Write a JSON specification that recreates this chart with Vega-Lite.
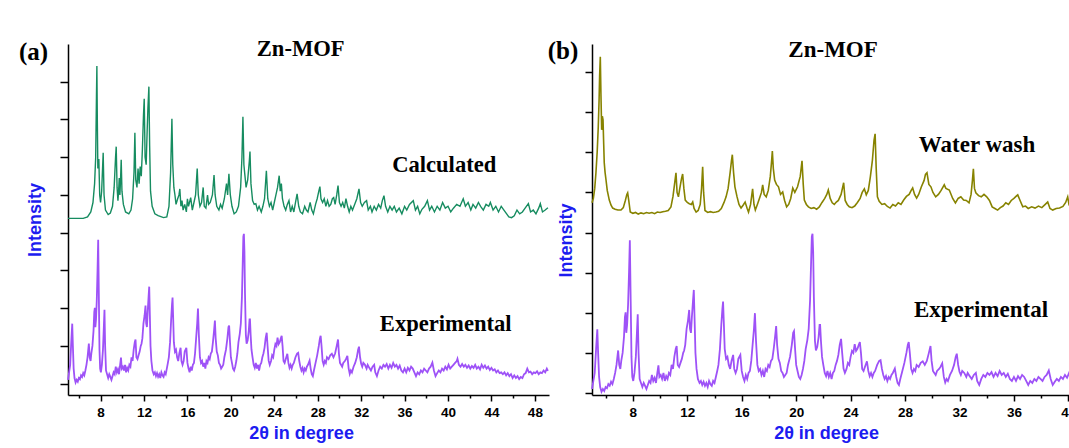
{
"$schema":"https://vega.github.io/schema/vega-lite/v6.json",
"padding":{"left":18,"top":37,"right":0,"bottom":0},
"bounds":"flush",
"spacing":43,
"config":{
 "view":{"stroke":null},
 "axis":{"grid":false,"domainColor":"#000000","domainWidth":1.5,"tickColor":"#000000","tickWidth":1.5,
  "labelFont":"Liberation Sans","labelFontWeight":"bold","labelFontSize":13.5,"labelColor":"#000000",
  "titleFont":"Liberation Sans","titleFontWeight":"bold","titleFontSize":18,"titleColor":"#1c1cf0"}
},
"datasets":{
"calc":[{"x":5.0,"y":4.38},{"x":6.4,"y":4.38},{"x":6.8,"y":4.42},{"x":7.1,"y":4.55},{"x":7.3,"y":4.8},{"x":7.45,"y":5.3},{"x":7.55,"y":6.0},{"x":7.62,"y":7.6},{"x":7.66,"y":8.42},{"x":7.7,"y":7.0},{"x":7.75,"y":5.7},{"x":7.84,"y":5.95},{"x":7.92,"y":5.0},{"x":8.0,"y":4.8},{"x":8.1,"y":5.1},{"x":8.24,"y":6.12},{"x":8.32,"y":5.0},{"x":8.45,"y":4.6},{"x":8.7,"y":4.48},{"x":8.9,"y":4.52},{"x":9.1,"y":4.7},{"x":9.25,"y":5.2},{"x":9.38,"y":6.0},{"x":9.44,"y":6.28},{"x":9.52,"y":5.2},{"x":9.6,"y":4.85},{"x":9.66,"y":5.1},{"x":9.72,"y":5.45},{"x":9.78,"y":5.0},{"x":9.84,"y":5.4},{"x":9.9,"y":5.93},{"x":9.97,"y":5.1},{"x":10.1,"y":4.75},{"x":10.3,"y":4.55},{"x":10.6,"y":4.5},{"x":10.8,"y":4.6},{"x":10.95,"y":4.9},{"x":11.08,"y":5.6},{"x":11.16,"y":6.65},{"x":11.24,"y":5.4},{"x":11.35,"y":5.2},{"x":11.45,"y":5.7},{"x":11.55,"y":5.3},{"x":11.65,"y":5.75},{"x":11.75,"y":5.5},{"x":11.85,"y":6.2},{"x":11.95,"y":7.1},{"x":12.02,"y":7.55},{"x":12.1,"y":6.0},{"x":12.2,"y":5.8},{"x":12.28,"y":6.6},{"x":12.36,"y":7.3},{"x":12.45,"y":7.87},{"x":12.52,"y":6.3},{"x":12.6,"y":5.1},{"x":12.75,"y":4.7},{"x":13.0,"y":4.5},{"x":13.3,"y":4.45},{"x":13.8,"y":4.4},{"x":14.1,"y":4.42},{"x":14.3,"y":4.7},{"x":14.45,"y":5.6},{"x":14.57,"y":7.02},{"x":14.65,"y":5.8},{"x":14.75,"y":5.2},{"x":14.85,"y":5.0},{"x":14.95,"y":4.75},{"x":15.1,"y":4.9},{"x":15.22,"y":5.0},{"x":15.3,"y":5.16},{"x":15.4,"y":4.7},{"x":15.5,"y":4.85},{"x":15.6,"y":4.6},{"x":15.75,"y":4.75},{"x":15.9,"y":4.55},{"x":16.0,"y":4.9},{"x":16.1,"y":4.7},{"x":16.3,"y":4.93},{"x":16.45,"y":4.6},{"x":16.6,"y":4.8},{"x":16.75,"y":5.0},{"x":16.9,"y":5.7},{"x":17.0,"y":5.0},{"x":17.15,"y":4.7},{"x":17.3,"y":4.8},{"x":17.45,"y":5.2},{"x":17.55,"y":4.7},{"x":17.7,"y":4.65},{"x":17.85,"y":5.0},{"x":17.95,"y":4.75},{"x":18.1,"y":4.8},{"x":18.3,"y":5.0},{"x":18.45,"y":5.53},{"x":18.55,"y":5.0},{"x":18.7,"y":4.7},{"x":18.9,"y":4.6},{"x":19.05,"y":4.75},{"x":19.2,"y":4.65},{"x":19.4,"y":4.9},{"x":19.6,"y":5.3},{"x":19.7,"y":5.0},{"x":19.82,"y":5.56},{"x":19.95,"y":5.0},{"x":20.1,"y":4.7},{"x":20.3,"y":4.5},{"x":20.5,"y":4.55},{"x":20.7,"y":4.7},{"x":20.9,"y":5.2},{"x":21.02,"y":6.0},{"x":21.11,"y":7.07},{"x":21.2,"y":5.8},{"x":21.3,"y":5.5},{"x":21.4,"y":5.2},{"x":21.55,"y":5.4},{"x":21.7,"y":5.9},{"x":21.76,"y":6.15},{"x":21.85,"y":5.3},{"x":22.0,"y":4.85},{"x":22.15,"y":4.75},{"x":22.3,"y":4.77},{"x":22.45,"y":4.6},{"x":22.6,"y":4.7},{"x":22.8,"y":4.55},{"x":22.95,"y":4.7},{"x":23.1,"y":4.9},{"x":23.27,"y":5.64},{"x":23.4,"y":4.9},{"x":23.55,"y":4.7},{"x":23.7,"y":4.8},{"x":23.85,"y":4.6},{"x":24.0,"y":4.8},{"x":24.15,"y":5.0},{"x":24.3,"y":5.2},{"x":24.45,"y":5.51},{"x":24.55,"y":5.1},{"x":24.65,"y":5.3},{"x":24.75,"y":4.9},{"x":24.9,"y":4.7},{"x":25.05,"y":4.6},{"x":25.2,"y":4.75},{"x":25.35,"y":4.85},{"x":25.5,"y":4.55},{"x":25.65,"y":4.7},{"x":25.8,"y":4.55},{"x":25.95,"y":4.8},{"x":26.1,"y":5.03},{"x":26.25,"y":4.7},{"x":26.4,"y":4.55},{"x":26.6,"y":4.5},{"x":26.8,"y":4.7},{"x":26.95,"y":4.6},{"x":27.1,"y":4.55},{"x":27.3,"y":4.8},{"x":27.45,"y":4.6},{"x":27.6,"y":4.5},{"x":27.8,"y":4.75},{"x":27.95,"y":4.9},{"x":28.1,"y":5.1},{"x":28.2,"y":5.22},{"x":28.3,"y":4.9},{"x":28.45,"y":4.8},{"x":28.6,"y":4.9},{"x":28.75,"y":4.7},{"x":28.9,"y":4.85},{"x":29.05,"y":4.7},{"x":29.2,"y":4.75},{"x":29.35,"y":4.9},{"x":29.47,"y":4.93},{"x":29.6,"y":4.75},{"x":29.75,"y":5.0},{"x":29.87,"y":5.25},{"x":30.0,"y":4.8},{"x":30.15,"y":4.7},{"x":30.3,"y":4.8},{"x":30.45,"y":4.65},{"x":30.6,"y":4.9},{"x":30.75,"y":4.7},{"x":30.9,"y":4.55},{"x":31.05,"y":4.7},{"x":31.2,"y":4.6},{"x":31.4,"y":4.75},{"x":31.6,"y":4.9},{"x":31.8,"y":5.16},{"x":31.95,"y":4.8},{"x":32.1,"y":4.7},{"x":32.3,"y":4.8},{"x":32.5,"y":4.85},{"x":32.65,"y":4.6},{"x":32.85,"y":4.7},{"x":33.0,"y":4.55},{"x":33.2,"y":4.7},{"x":33.4,"y":4.6},{"x":33.6,"y":4.75},{"x":33.8,"y":4.65},{"x":33.95,"y":4.85},{"x":34.1,"y":4.98},{"x":34.25,"y":4.7},{"x":34.45,"y":4.55},{"x":34.65,"y":4.7},{"x":34.85,"y":4.6},{"x":35.05,"y":4.7},{"x":35.25,"y":4.55},{"x":35.5,"y":4.65},{"x":35.75,"y":4.5},{"x":36.0,"y":4.7},{"x":36.2,"y":4.6},{"x":36.45,"y":4.75},{"x":36.8,"y":4.85},{"x":37.0,"y":4.6},{"x":37.2,"y":4.7},{"x":37.4,"y":4.5},{"x":37.6,"y":4.62},{"x":37.85,"y":4.7},{"x":38.1,"y":4.85},{"x":38.3,"y":4.6},{"x":38.5,"y":4.7},{"x":38.75,"y":4.55},{"x":39.0,"y":4.7},{"x":39.25,"y":4.6},{"x":39.5,"y":4.8},{"x":39.75,"y":4.65},{"x":40.0,"y":4.7},{"x":40.25,"y":4.55},{"x":40.5,"y":4.65},{"x":40.8,"y":4.75},{"x":41.1,"y":4.7},{"x":41.4,"y":4.9},{"x":41.6,"y":4.7},{"x":41.85,"y":4.8},{"x":42.1,"y":4.6},{"x":42.3,"y":4.75},{"x":42.55,"y":4.65},{"x":42.8,"y":4.8},{"x":43.0,"y":4.7},{"x":43.25,"y":4.6},{"x":43.5,"y":4.75},{"x":43.75,"y":4.7},{"x":43.9,"y":4.8},{"x":44.15,"y":4.6},{"x":44.4,"y":4.7},{"x":44.65,"y":4.55},{"x":44.9,"y":4.7},{"x":45.15,"y":4.6},{"x":45.4,"y":4.5},{"x":45.6,"y":4.42},{"x":45.85,"y":4.4},{"x":46.1,"y":4.45},{"x":46.35,"y":4.6},{"x":46.6,"y":4.5},{"x":46.85,"y":4.55},{"x":47.1,"y":4.65},{"x":47.4,"y":4.77},{"x":47.6,"y":4.55},{"x":47.85,"y":4.6},{"x":48.1,"y":4.5},{"x":48.35,"y":4.65},{"x":48.5,"y":4.77},{"x":48.7,"y":4.55},{"x":48.95,"y":4.6},{"x":49.2,"y":4.66}],
"exp":[{"x":5.0,"y":0.1},{"x":5.1,"y":0.3},{"x":5.2,"y":0.5},{"x":5.3,"y":1.1},{"x":5.39,"y":1.59},{"x":5.45,"y":1.0},{"x":5.52,"y":0.4},{"x":5.6,"y":0.15},{"x":5.7,"y":0.03},{"x":5.8,"y":0.1},{"x":5.9,"y":0.05},{"x":6.0,"y":0.15},{"x":6.1,"y":0.12},{"x":6.2,"y":0.22},{"x":6.3,"y":0.18},{"x":6.4,"y":0.28},{"x":6.5,"y":0.22},{"x":6.6,"y":0.35},{"x":6.7,"y":0.5},{"x":6.8,"y":0.7},{"x":6.92,"y":1.06},{"x":7.0,"y":0.7},{"x":7.08,"y":0.6},{"x":7.15,"y":0.8},{"x":7.25,"y":1.0},{"x":7.35,"y":1.4},{"x":7.42,"y":1.9},{"x":7.47,"y":2.01},{"x":7.52,"y":1.5},{"x":7.58,"y":1.7},{"x":7.65,"y":2.2},{"x":7.72,"y":3.0},{"x":7.78,"y":3.81},{"x":7.83,"y":2.6},{"x":7.9,"y":0.9},{"x":7.96,"y":0.4},{"x":8.03,"y":0.3},{"x":8.12,"y":0.5},{"x":8.22,"y":0.9},{"x":8.3,"y":1.5},{"x":8.36,"y":1.96},{"x":8.42,"y":1.0},{"x":8.5,"y":0.35},{"x":8.6,"y":0.25},{"x":8.7,"y":0.15},{"x":8.8,"y":0.25},{"x":8.9,"y":0.18},{"x":9.0,"y":0.1},{"x":9.1,"y":0.2},{"x":9.2,"y":0.3},{"x":9.3,"y":0.25},{"x":9.4,"y":0.45},{"x":9.5,"y":0.3},{"x":9.6,"y":0.38},{"x":9.7,"y":0.25},{"x":9.8,"y":0.5},{"x":9.88,"y":0.69},{"x":9.95,"y":0.4},{"x":10.05,"y":0.45},{"x":10.15,"y":0.35},{"x":10.25,"y":0.5},{"x":10.35,"y":0.3},{"x":10.45,"y":0.42},{"x":10.55,"y":0.35},{"x":10.65,"y":0.5},{"x":10.75,"y":0.45},{"x":10.85,"y":0.7},{"x":10.95,"y":0.6},{"x":11.05,"y":0.9},{"x":11.15,"y":1.1},{"x":11.22,"y":1.17},{"x":11.3,"y":0.7},{"x":11.4,"y":0.65},{"x":11.5,"y":0.75},{"x":11.6,"y":0.85},{"x":11.7,"y":1.0},{"x":11.77,"y":1.06},{"x":11.85,"y":1.2},{"x":11.95,"y":1.6},{"x":12.05,"y":1.8},{"x":12.14,"y":2.07},{"x":12.2,"y":1.6},{"x":12.27,"y":1.5},{"x":12.34,"y":1.9},{"x":12.42,"y":2.3},{"x":12.48,"y":2.57},{"x":12.54,"y":1.8},{"x":12.6,"y":1.0},{"x":12.68,"y":0.6},{"x":12.78,"y":0.35},{"x":12.9,"y":0.25},{"x":13.0,"y":0.3},{"x":13.1,"y":0.2},{"x":13.2,"y":0.28},{"x":13.3,"y":0.18},{"x":13.4,"y":0.25},{"x":13.5,"y":0.15},{"x":13.6,"y":0.3},{"x":13.7,"y":0.22},{"x":13.8,"y":0.18},{"x":13.9,"y":0.3},{"x":14.0,"y":0.25},{"x":14.1,"y":0.4},{"x":14.2,"y":0.55},{"x":14.29,"y":0.7},{"x":14.4,"y":1.1},{"x":14.5,"y":1.7},{"x":14.58,"y":2.1},{"x":14.63,"y":2.28},{"x":14.68,"y":1.8},{"x":14.75,"y":1.1},{"x":14.85,"y":0.85},{"x":14.95,"y":0.9},{"x":15.05,"y":0.7},{"x":15.15,"y":0.6},{"x":15.25,"y":0.8},{"x":15.37,"y":0.95},{"x":15.45,"y":0.6},{"x":15.55,"y":0.5},{"x":15.65,"y":0.6},{"x":15.75,"y":0.85},{"x":15.9,"y":0.95},{"x":16.0,"y":0.55},{"x":16.1,"y":0.4},{"x":16.2,"y":0.3},{"x":16.3,"y":0.45},{"x":16.4,"y":0.35},{"x":16.5,"y":0.5},{"x":16.6,"y":0.55},{"x":16.7,"y":0.8},{"x":16.8,"y":1.2},{"x":16.9,"y":1.6},{"x":16.97,"y":1.99},{"x":17.05,"y":1.3},{"x":17.15,"y":0.7},{"x":17.25,"y":0.55},{"x":17.35,"y":0.6},{"x":17.45,"y":0.45},{"x":17.55,"y":0.55},{"x":17.65,"y":0.4},{"x":17.75,"y":0.6},{"x":17.85,"y":0.55},{"x":17.95,"y":0.7},{"x":18.05,"y":0.65},{"x":18.15,"y":0.8},{"x":18.25,"y":0.85},{"x":18.35,"y":1.1},{"x":18.45,"y":1.4},{"x":18.53,"y":1.67},{"x":18.6,"y":1.2},{"x":18.7,"y":0.85},{"x":18.8,"y":0.75},{"x":18.9,"y":0.55},{"x":19.0,"y":0.5},{"x":19.1,"y":0.4},{"x":19.2,"y":0.45},{"x":19.3,"y":0.5},{"x":19.4,"y":0.7},{"x":19.55,"y":0.9},{"x":19.68,"y":1.2},{"x":19.78,"y":1.5},{"x":19.84,"y":1.54},{"x":19.92,"y":1.1},{"x":20.0,"y":0.7},{"x":20.1,"y":0.55},{"x":20.2,"y":0.4},{"x":20.3,"y":0.35},{"x":20.4,"y":0.45},{"x":20.5,"y":0.6},{"x":20.6,"y":0.8},{"x":20.7,"y":1.1},{"x":20.82,"y":1.32},{"x":20.92,"y":1.6},{"x":21.02,"y":2.3},{"x":21.1,"y":3.3},{"x":21.15,"y":3.9},{"x":21.2,"y":3.97},{"x":21.25,"y":3.5},{"x":21.3,"y":2.4},{"x":21.38,"y":1.3},{"x":21.45,"y":1.06},{"x":21.55,"y":1.15},{"x":21.65,"y":1.4},{"x":21.72,"y":1.7},{"x":21.76,"y":1.7},{"x":21.82,"y":1.3},{"x":21.9,"y":0.9},{"x":22.0,"y":0.69},{"x":22.1,"y":0.5},{"x":22.2,"y":0.42},{"x":22.3,"y":0.55},{"x":22.4,"y":0.4},{"x":22.5,"y":0.5},{"x":22.6,"y":0.35},{"x":22.7,"y":0.5},{"x":22.8,"y":0.55},{"x":22.9,"y":0.7},{"x":23.0,"y":0.8},{"x":23.1,"y":0.95},{"x":23.2,"y":1.2},{"x":23.3,"y":1.35},{"x":23.38,"y":1.0},{"x":23.48,"y":0.61},{"x":23.58,"y":0.5},{"x":23.7,"y":0.6},{"x":23.8,"y":0.75},{"x":23.9,"y":0.7},{"x":24.0,"y":0.9},{"x":24.1,"y":1.05},{"x":24.2,"y":1.0},{"x":24.3,"y":1.22},{"x":24.4,"y":1.05},{"x":24.5,"y":1.1},{"x":24.6,"y":1.2},{"x":24.68,"y":1.27},{"x":24.76,"y":1.0},{"x":24.85,"y":0.6},{"x":24.95,"y":0.55},{"x":25.05,"y":0.65},{"x":25.2,"y":0.79},{"x":25.3,"y":0.55},{"x":25.4,"y":0.42},{"x":25.5,"y":0.5},{"x":25.6,"y":0.4},{"x":25.7,"y":0.5},{"x":25.8,"y":0.55},{"x":25.95,"y":0.7},{"x":26.1,"y":0.8},{"x":26.2,"y":0.82},{"x":26.3,"y":0.6},{"x":26.4,"y":0.45},{"x":26.5,"y":0.35},{"x":26.6,"y":0.42},{"x":26.7,"y":0.3},{"x":26.8,"y":0.4},{"x":26.9,"y":0.35},{"x":27.0,"y":0.45},{"x":27.1,"y":0.5},{"x":27.25,"y":0.61},{"x":27.35,"y":0.4},{"x":27.45,"y":0.25},{"x":27.55,"y":0.2},{"x":27.65,"y":0.35},{"x":27.8,"y":0.55},{"x":27.95,"y":0.75},{"x":28.1,"y":1.0},{"x":28.2,"y":1.2},{"x":28.27,"y":1.27},{"x":28.35,"y":1.0},{"x":28.45,"y":0.6},{"x":28.55,"y":0.5},{"x":28.65,"y":0.6},{"x":28.75,"y":0.55},{"x":28.85,"y":0.7},{"x":29.0,"y":0.65},{"x":29.15,"y":0.75},{"x":29.3,"y":0.79},{"x":29.45,"y":0.7},{"x":29.6,"y":0.8},{"x":29.75,"y":1.0},{"x":29.87,"y":1.17},{"x":29.95,"y":0.8},{"x":30.05,"y":0.55},{"x":30.15,"y":0.5},{"x":30.25,"y":0.45},{"x":30.35,"y":0.55},{"x":30.5,"y":0.6},{"x":30.6,"y":0.65},{"x":30.73,"y":0.74},{"x":30.85,"y":0.4},{"x":30.95,"y":0.26},{"x":31.05,"y":0.35},{"x":31.15,"y":0.3},{"x":31.3,"y":0.45},{"x":31.45,"y":0.55},{"x":31.6,"y":0.7},{"x":31.72,"y":0.9},{"x":31.8,"y":0.98},{"x":31.9,"y":0.7},{"x":32.0,"y":0.53},{"x":32.1,"y":0.45},{"x":32.2,"y":0.55},{"x":32.35,"y":0.5},{"x":32.5,"y":0.4},{"x":32.6,"y":0.5},{"x":32.75,"y":0.42},{"x":32.9,"y":0.35},{"x":33.05,"y":0.45},{"x":33.2,"y":0.5},{"x":33.3,"y":0.3},{"x":33.45,"y":0.2},{"x":33.6,"y":0.35},{"x":33.75,"y":0.45},{"x":33.9,"y":0.4},{"x":34.05,"y":0.5},{"x":34.2,"y":0.45},{"x":34.35,"y":0.52},{"x":34.5,"y":0.4},{"x":34.65,"y":0.5},{"x":34.8,"y":0.42},{"x":34.95,"y":0.55},{"x":35.1,"y":0.45},{"x":35.25,"y":0.5},{"x":35.4,"y":0.4},{"x":35.55,"y":0.48},{"x":35.7,"y":0.35},{"x":35.85,"y":0.3},{"x":36.0,"y":0.4},{"x":36.15,"y":0.3},{"x":36.3,"y":0.42},{"x":36.45,"y":0.35},{"x":36.6,"y":0.45},{"x":36.75,"y":0.4},{"x":36.9,"y":0.3},{"x":37.05,"y":0.2},{"x":37.2,"y":0.3},{"x":37.35,"y":0.25},{"x":37.5,"y":0.35},{"x":37.65,"y":0.3},{"x":37.8,"y":0.4},{"x":37.95,"y":0.35},{"x":38.1,"y":0.3},{"x":38.25,"y":0.4},{"x":38.4,"y":0.45},{"x":38.56,"y":0.56},{"x":38.7,"y":0.35},{"x":38.85,"y":0.2},{"x":39.0,"y":0.28},{"x":39.15,"y":0.35},{"x":39.3,"y":0.3},{"x":39.45,"y":0.4},{"x":39.6,"y":0.35},{"x":39.75,"y":0.45},{"x":39.9,"y":0.38},{"x":40.05,"y":0.5},{"x":40.2,"y":0.4},{"x":40.35,"y":0.45},{"x":40.5,"y":0.5},{"x":40.65,"y":0.55},{"x":40.8,"y":0.6},{"x":40.87,"y":0.66},{"x":41.0,"y":0.5},{"x":41.15,"y":0.45},{"x":41.3,"y":0.52},{"x":41.45,"y":0.45},{"x":41.6,"y":0.5},{"x":41.75,"y":0.42},{"x":41.9,"y":0.48},{"x":42.05,"y":0.4},{"x":42.2,"y":0.47},{"x":42.35,"y":0.42},{"x":42.5,"y":0.5},{"x":42.65,"y":0.4},{"x":42.8,"y":0.45},{"x":42.95,"y":0.38},{"x":43.1,"y":0.5},{"x":43.25,"y":0.42},{"x":43.4,"y":0.48},{"x":43.55,"y":0.4},{"x":43.7,"y":0.45},{"x":43.85,"y":0.36},{"x":44.0,"y":0.42},{"x":44.15,"y":0.35},{"x":44.3,"y":0.38},{"x":44.45,"y":0.3},{"x":44.6,"y":0.35},{"x":44.75,"y":0.28},{"x":44.9,"y":0.3},{"x":45.05,"y":0.25},{"x":45.2,"y":0.3},{"x":45.35,"y":0.22},{"x":45.5,"y":0.28},{"x":45.65,"y":0.2},{"x":45.8,"y":0.25},{"x":45.95,"y":0.15},{"x":46.1,"y":0.22},{"x":46.25,"y":0.15},{"x":46.4,"y":0.2},{"x":46.55,"y":0.12},{"x":46.7,"y":0.18},{"x":46.85,"y":0.15},{"x":47.0,"y":0.25},{"x":47.15,"y":0.28},{"x":47.3,"y":0.4},{"x":47.45,"y":0.3},{"x":47.6,"y":0.32},{"x":47.75,"y":0.25},{"x":47.9,"y":0.3},{"x":48.05,"y":0.28},{"x":48.2,"y":0.33},{"x":48.35,"y":0.25},{"x":48.5,"y":0.3},{"x":48.65,"y":0.28},{"x":48.8,"y":0.35},{"x":48.95,"y":0.3},{"x":49.1,"y":0.4},{"x":49.2,"y":0.34}],
"wash":[{"x":5.0,"y":4.74},{"x":5.1,"y":4.85},{"x":5.2,"y":5.1},{"x":5.29,"y":5.49},{"x":5.38,"y":6.0},{"x":5.46,"y":6.63},{"x":5.52,"y":7.3},{"x":5.56,"y":7.9},{"x":5.61,"y":8.38},{"x":5.66,"y":7.4},{"x":5.71,"y":6.56},{"x":5.76,"y":6.9},{"x":5.81,"y":6.81},{"x":5.86,"y":6.2},{"x":5.9,"y":5.74},{"x":5.96,"y":5.5},{"x":6.03,"y":5.31},{"x":6.12,"y":5.05},{"x":6.27,"y":4.81},{"x":6.4,"y":4.68},{"x":6.52,"y":4.61},{"x":6.7,"y":4.58},{"x":6.9,"y":4.56},{"x":7.13,"y":4.56},{"x":7.3,"y":4.62},{"x":7.45,"y":4.8},{"x":7.56,"y":4.95},{"x":7.62,"y":4.99},{"x":7.7,"y":4.8},{"x":7.81,"y":4.51},{"x":8.0,"y":4.48},{"x":8.2,"y":4.5},{"x":8.4,"y":4.46},{"x":8.6,"y":4.49},{"x":8.8,"y":4.47},{"x":9.0,"y":4.5},{"x":9.2,"y":4.48},{"x":9.4,"y":4.5},{"x":9.6,"y":4.47},{"x":9.8,"y":4.51},{"x":10.0,"y":4.5},{"x":10.2,"y":4.52},{"x":10.4,"y":4.53},{"x":10.6,"y":4.55},{"x":10.8,"y":4.64},{"x":10.95,"y":4.9},{"x":11.1,"y":5.3},{"x":11.17,"y":5.49},{"x":11.25,"y":5.0},{"x":11.35,"y":4.89},{"x":11.45,"y":5.1},{"x":11.58,"y":5.35},{"x":11.66,"y":5.46},{"x":11.75,"y":5.1},{"x":11.85,"y":4.81},{"x":12.0,"y":4.75},{"x":12.15,"y":4.72},{"x":12.3,"y":4.7},{"x":12.4,"y":4.76},{"x":12.5,"y":4.6},{"x":12.65,"y":4.51},{"x":12.8,"y":4.55},{"x":12.95,"y":4.7},{"x":13.05,"y":5.1},{"x":13.13,"y":5.64},{"x":13.2,"y":5.0},{"x":13.3,"y":4.55},{"x":13.5,"y":4.5},{"x":13.7,"y":4.52},{"x":13.9,"y":4.5},{"x":14.1,"y":4.51},{"x":14.3,"y":4.53},{"x":14.5,"y":4.6},{"x":14.7,"y":4.75},{"x":14.85,"y":4.89},{"x":15.0,"y":5.1},{"x":15.15,"y":5.5},{"x":15.25,"y":5.8},{"x":15.31,"y":5.94},{"x":15.4,"y":5.5},{"x":15.5,"y":5.14},{"x":15.65,"y":4.9},{"x":15.8,"y":4.7},{"x":15.95,"y":4.61},{"x":16.1,"y":4.68},{"x":16.25,"y":4.76},{"x":16.4,"y":4.6},{"x":16.5,"y":4.51},{"x":16.65,"y":4.7},{"x":16.8,"y":5.09},{"x":16.9,"y":4.7},{"x":17.0,"y":4.56},{"x":17.15,"y":4.7},{"x":17.3,"y":4.85},{"x":17.45,"y":5.0},{"x":17.54,"y":5.19},{"x":17.65,"y":4.95},{"x":17.8,"y":4.89},{"x":17.95,"y":5.05},{"x":18.1,"y":5.4},{"x":18.2,"y":5.8},{"x":18.25,"y":6.03},{"x":18.32,"y":5.6},{"x":18.42,"y":5.31},{"x":18.55,"y":5.2},{"x":18.7,"y":5.14},{"x":18.85,"y":4.95},{"x":19.01,"y":5.01},{"x":19.15,"y":4.8},{"x":19.3,"y":4.64},{"x":19.45,"y":4.7},{"x":19.6,"y":4.85},{"x":19.75,"y":5.11},{"x":19.9,"y":5.0},{"x":20.1,"y":5.14},{"x":20.3,"y":5.4},{"x":20.43,"y":5.79},{"x":20.52,"y":5.2},{"x":20.6,"y":4.81},{"x":20.75,"y":4.7},{"x":20.9,"y":4.64},{"x":21.1,"y":4.6},{"x":21.3,"y":4.62},{"x":21.5,"y":4.58},{"x":21.7,"y":4.64},{"x":21.9,"y":4.75},{"x":22.1,"y":4.85},{"x":22.25,"y":4.95},{"x":22.36,"y":5.06},{"x":22.5,"y":4.85},{"x":22.65,"y":4.74},{"x":22.8,"y":4.7},{"x":22.95,"y":4.76},{"x":23.1,"y":4.8},{"x":23.3,"y":4.95},{"x":23.49,"y":5.24},{"x":23.6,"y":4.8},{"x":23.75,"y":4.7},{"x":23.9,"y":4.64},{"x":24.1,"y":4.62},{"x":24.3,"y":4.66},{"x":24.5,"y":4.75},{"x":24.7,"y":4.85},{"x":24.85,"y":5.0},{"x":25.01,"y":5.09},{"x":25.15,"y":4.94},{"x":25.3,"y":5.05},{"x":25.45,"y":5.39},{"x":25.6,"y":5.8},{"x":25.72,"y":6.3},{"x":25.8,"y":6.46},{"x":25.88,"y":5.6},{"x":25.97,"y":4.89},{"x":26.1,"y":4.78},{"x":26.3,"y":4.7},{"x":26.5,"y":4.72},{"x":26.7,"y":4.65},{"x":26.9,"y":4.61},{"x":27.1,"y":4.7},{"x":27.3,"y":4.66},{"x":27.5,"y":4.74},{"x":27.7,"y":4.7},{"x":27.9,"y":4.81},{"x":28.1,"y":4.9},{"x":28.3,"y":4.95},{"x":28.45,"y":5.05},{"x":28.56,"y":5.11},{"x":28.7,"y":4.95},{"x":28.85,"y":4.86},{"x":29.0,"y":4.95},{"x":29.2,"y":5.14},{"x":29.4,"y":5.3},{"x":29.5,"y":5.45},{"x":29.61,"y":5.49},{"x":29.75,"y":5.2},{"x":29.9,"y":5.14},{"x":30.05,"y":5.0},{"x":30.25,"y":4.89},{"x":30.45,"y":4.95},{"x":30.65,"y":5.05},{"x":30.88,"y":5.19},{"x":31.0,"y":5.1},{"x":31.25,"y":5.06},{"x":31.5,"y":4.85},{"x":31.7,"y":4.74},{"x":31.9,"y":4.85},{"x":32.1,"y":4.89},{"x":32.3,"y":4.81},{"x":32.5,"y":4.8},{"x":32.7,"y":4.74},{"x":32.85,"y":4.95},{"x":32.95,"y":5.3},{"x":33.02,"y":5.59},{"x":33.1,"y":5.1},{"x":33.2,"y":4.99},{"x":33.4,"y":4.92},{"x":33.6,"y":4.89},{"x":33.8,"y":4.95},{"x":34.0,"y":4.89},{"x":34.2,"y":4.8},{"x":34.4,"y":4.64},{"x":34.6,"y":4.6},{"x":34.8,"y":4.56},{"x":35.0,"y":4.62},{"x":35.2,"y":4.66},{"x":35.4,"y":4.74},{"x":35.6,"y":4.7},{"x":35.8,"y":4.8},{"x":36.0,"y":4.85},{"x":36.15,"y":4.9},{"x":36.28,"y":4.94},{"x":36.45,"y":4.8},{"x":36.65,"y":4.64},{"x":36.85,"y":4.66},{"x":37.05,"y":4.6},{"x":37.3,"y":4.64},{"x":37.55,"y":4.61},{"x":37.8,"y":4.66},{"x":38.05,"y":4.62},{"x":38.3,"y":4.7},{"x":38.48,"y":4.76},{"x":38.65,"y":4.6},{"x":38.85,"y":4.56},{"x":39.1,"y":4.6},{"x":39.35,"y":4.61},{"x":39.6,"y":4.65},{"x":39.8,"y":4.75},{"x":39.95,"y":4.89},{"x":40.05,"y":4.69},{"x":40.3,"y":4.65},{"x":40.6,"y":4.6},{"x":41.0,"y":4.62}],
"labA":[{"x":26.43,"y":8.69,"t":"Zn-MOF"},{"x":39.65,"y":5.62,"t":"Calculated"},{"x":39.79,"y":1.4,"t":"Experimental"}],
"tagA":[{"x":1.82,"y":8.58,"t":"(a)"}],
"labB":[{"x":22.71,"y":8.38,"t":"Zn-MOF"},{"x":33.29,"y":6.01,"t":"Water wash"},{"x":33.58,"y":1.9,"t":"Experimental"}],
"tagB":[{"x":2.87,"y":8.33,"t":"(b)"}]
},
"hconcat":[
{
 "width":481,"height":351,
 "encoding":{
  "x":{"field":"x","type":"quantitative","scale":{"domain":[5,49.3],"nice":false,"zero":false},
   "axis":{"values":[6,8,10,12,14,16,18,20,22,24,26,28,30,32,34,36,38,40,42,44,46,48],
    "labelExpr":"datum.value % 4 === 0 ? datum.label : ''",
    "tickSize":{"condition":{"test":"datum.value % 4 === 0","value":6},"value":3},
    "labelPadding":4,"title":"2θ in degree","titleX":233,"titlePadding":6}},
  "y":{"field":"y","type":"quantitative","scale":{"domain":[-0.3,9.0],"nice":false,"zero":false},
   "axis":{"values":[0,1,2,3,4,5,6,7,8],"labels":false,"tickSize":8,"title":"Intensity","titlePadding":15}}
 },
 "layer":[
  {"data":{"name":"calc"},"mark":{"type":"line","color":"#168c60","strokeWidth":1.4}},
  {"data":{"name":"exp"},"mark":{"type":"line","color":"#9e52f7","strokeWidth":1.8}},
  {"data":{"name":"labA"},"mark":{"type":"text","font":"Liberation Serif","fontWeight":"bold","fontSize":22.6,"baseline":"alphabetic","align":"center","color":"#000000"},"encoding":{"text":{"field":"t"}}},
  {"data":{"name":"tagA"},"mark":{"type":"text","font":"Liberation Serif","fontWeight":"bold","fontSize":25,"baseline":"alphabetic","align":"center","color":"#000000"},"encoding":{"text":{"field":"t"}}}
 ]
},
{
 "width":490,"height":351,
 "encoding":{
  "x":{"field":"x","type":"quantitative","scale":{"domain":[5,41],"nice":false,"zero":false},
   "axis":{"values":[6,8,10,12,14,16,18,20,22,24,26,28,30,32,34,36,38,40],
    "labelExpr":"datum.value % 4 === 0 ? datum.label : ''",
    "tickSize":{"condition":{"test":"datum.value % 4 === 0","value":6},"value":3},
    "labelPadding":4,"title":"2θ in degree","titleX":234,"titlePadding":6}},
  "y":{"field":"y","type":"quantitative","scale":{"domain":[-0.05,8.7],"nice":false,"zero":false},
   "axis":{"values":[0,1,2,3,4,5,6,7,8],"labels":false,"tickSize":7,"title":"Intensity","titlePadding":9,"titleY":196}}
 },
 "layer":[
  {"data":{"name":"wash"},"mark":{"type":"line","color":"#878300","strokeWidth":1.6}},
  {"data":{"name":"exp"},"mark":{"type":"line","color":"#9e52f7","strokeWidth":1.8}},
  {"data":{"name":"labB"},"mark":{"type":"text","font":"Liberation Serif","fontWeight":"bold","fontSize":23,"baseline":"alphabetic","align":"center","color":"#000000"},"encoding":{"text":{"field":"t"}}},
  {"data":{"name":"tagB"},"mark":{"type":"text","font":"Liberation Serif","fontWeight":"bold","fontSize":25,"baseline":"alphabetic","align":"center","color":"#000000"},"encoding":{"text":{"field":"t"}}}
 ]
}
]
}
